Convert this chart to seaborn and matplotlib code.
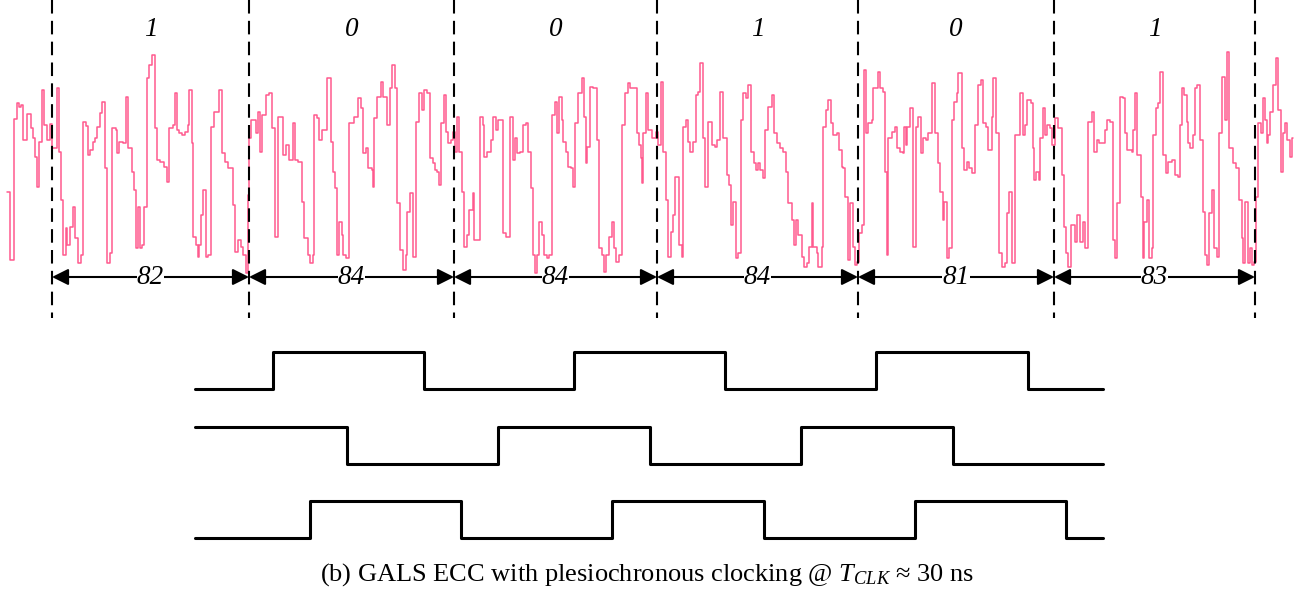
import numpy as np
import pandas as pd
import matplotlib
matplotlib.use("Agg")
import matplotlib.pyplot as plt
import seaborn as sns

sns.set_theme(style="white")
plt.rcParams['font.family'] = ['Liberation Serif', 'DejaVu Serif']
plt.rcParams['mathtext.fontset'] = 'custom'
plt.rcParams['mathtext.rm'] = 'Liberation Serif'
plt.rcParams['mathtext.it'] = 'Liberation Serif:italic'
plt.rcParams['text.color'] = 'black'

# ---------------- data ----------------
# pink trace: step breakpoints (time, level; larger level = lower on screen)
trace_t = [7, 10, 14, 17, 19, 21, 23, 27, 31, 33, 35, 37, 39, 42, 44, 47, 50, 52, 57, 59, 61, 63, 66, 67, 70, 73, 75, 78, 81, 83,
           86, 88, 90, 93, 95, 97, 100, 102, 105, 107, 110, 112, 116, 117, 119, 123, 126, 128, 132, 134, 136, 138, 140, 142, 144, 147, 149, 152, 155, 157,
           160, 164, 167, 169, 173, 175, 177, 179, 182, 185, 188, 189, 192, 193, 196, 198, 199, 201, 203, 206, 208, 211, 214, 219, 222, 225, 228, 233, 235, 238,
           241, 243, 246, 248, 249, 251, 256, 258, 260, 262, 266, 269, 272, 275, 278, 283, 286, 289, 293, 295, 298, 302, 304, 308, 310, 313, 314, 317, 319, 322,
           327, 331, 333, 335, 337, 339, 342, 343, 346, 349, 354, 358, 361, 363, 366, 368, 372, 373, 374, 377, 381, 383, 387, 390, 392, 395, 397, 400, 403, 406,
           407, 410, 413, 416, 419, 422, 424, 427, 430, 433, 435, 437, 439, 441, 444, 446, 448, 451, 453, 455, 457, 459, 462, 464, 467, 469, 473, 474, 477, 480,
           483, 484, 487, 491, 493, 496, 498, 503, 506, 510, 513, 515, 517, 520, 523, 526, 528, 531, 533, 535, 537, 539, 542, 544, 547, 549, 552, 555, 557, 559,
           562, 563, 566, 568, 571, 573, 575, 578, 582, 584, 586, 587, 590, 593, 597, 599, 602, 604, 606, 609, 612, 614, 616, 619, 622, 625, 628, 630, 637, 639,
           641, 642, 643, 646, 648, 652, 656, 658, 661, 663, 666, 668, 671, 673, 675, 679, 682, 683, 686, 688, 690, 693, 696, 698, 700, 703, 705, 708, 712, 715,
           717, 720, 723, 727, 729, 731, 733, 736, 738, 741, 743, 746, 748, 751, 754, 756, 758, 760, 763, 765, 768, 772, 774, 777, 780, 783, 786, 788, 792, 794,
           796, 798, 802, 804, 807, 809, 812, 813, 817, 818, 822, 823, 826, 828, 831, 833, 837, 839, 842, 843, 845, 848, 850, 853, 855, 857, 859, 862, 864, 866,
           868, 872, 873, 878, 880, 883, 885, 887, 888, 892, 895, 897, 900, 903, 904, 906, 907, 910, 913, 916, 918, 921, 923, 926, 928, 932, 935, 938, 940, 943,
           944, 947, 949, 952, 954, 957, 958, 962, 964, 967, 969, 972, 975, 978, 981, 983, 986, 988, 992, 993, 996, 999, 1002, 1005, 1007, 1009, 1012, 1015, 1020, 1023,
           1025, 1027, 1031, 1033, 1034, 1036, 1039, 1040, 1043, 1045, 1047, 1050, 1052, 1055, 1058, 1062, 1064, 1066, 1068, 1071, 1075, 1077, 1080, 1083, 1085, 1088, 1092, 1094, 1097, 1099,
           1105, 1107, 1110, 1113, 1115, 1117, 1120, 1123, 1125, 1127, 1132, 1133, 1135, 1137, 1141, 1143, 1144, 1147, 1149, 1152, 1153, 1156, 1158, 1160, 1163, 1166, 1168, 1172, 1175, 1178,
           1180, 1182, 1184, 1187, 1188, 1190, 1193, 1195, 1197, 1200, 1203, 1205, 1207, 1209, 1212, 1214, 1217, 1219, 1222, 1225, 1227, 1229, 1233, 1236, 1239, 1242, 1243, 1245, 1248, 1250,
           1252, 1254, 1256, 1258, 1261, 1263, 1265, 1267, 1268, 1270, 1273, 1276, 1278, 1281, 1283, 1285, 1287, 1290, 1292, 1293]
trace_v = [192, 260, 119, 103, 107, 105, 140, 114, 128, 138, 157, 187, 142, 90, 125, 140, 124, 148, 88, 152, 200, 255, 228, 245, 227, 207, 238, 263, 255, 122,
           126, 155, 150, 142, 138, 127, 113, 102, 168, 263, 253, 128, 130, 153, 142, 143, 97, 148, 172, 190, 248, 207, 248, 245, 207, 78, 65, 55, 128, 160,
           162, 167, 182, 128, 125, 93, 130, 133, 135, 132, 125, 90, 143, 237, 245, 257, 245, 215, 190, 257, 255, 127, 112, 90, 153, 162, 168, 205, 252, 240,
           247, 255, 273, 195, 138, 120, 133, 112, 152, 115, 95, 93, 128, 237, 117, 155, 145, 160, 123, 160, 162, 202, 238, 255, 263, 255, 115, 118, 140, 130,
           78, 142, 172, 188, 255, 222, 235, 255, 258, 123, 117, 98, 108, 153, 148, 168, 170, 187, 118, 97, 82, 97, 125, 88, 65, 88, 203, 250, 270, 255,
           212, 193, 257, 122, 93, 110, 90, 93, 158, 163, 170, 172, 185, 123, 95, 132, 143, 140, 132, 152, 117, 152, 192, 247, 235, 210, 193, 240, 240, 117,
           125, 157, 152, 140, 117, 130, 120, 233, 237, 117, 160, 138, 153, 152, 125, 123, 152, 188, 255, 273, 255, 222, 235, 255, 258, 255, 115, 102, 133, 97,
           120, 142, 152, 167, 168, 187, 123, 93, 78, 117, 163, 147, 87, 88, 140, 248, 255, 272, 255, 237, 222, 248, 262, 255, 125, 93, 83, 88, 133, 145,
           158, 183, 133, 93, 130, 138, 132, 145, 82, 152, 200, 257, 232, 215, 177, 245, 257, 127, 120, 142, 152, 142, 95, 92, 63, 138, 187, 122, 145, 147,
           140, 92, 138, 175, 185, 225, 202, 258, 253, 120, 93, 98, 85, 152, 163, 170, 163, 170, 178, 130, 107, 95, 133, 143, 148, 152, 172, 203, 220, 245,
           220, 235, 257, 267, 263, 247, 203, 247, 253, 267, 247, 127, 110, 100, 123, 135, 133, 150, 167, 168, 197, 260, 203, 247, 265, 262, 233, 225, 70, 133,
           123, 120, 88, 72, 88, 92, 172, 255, 138, 132, 127, 148, 152, 153, 127, 145, 127, 108, 247, 127, 117, 153, 138, 140, 133, 83, 133, 163, 192, 220,
           202, 258, 248, 120, 102, 93, 73, 148, 170, 162, 168, 173, 125, 85, 80, 123, 127, 150, 117, 78, 133, 253, 267, 263, 213, 192, 263, 135, 93, 135,
           125, 100, 103, 148, 180, 172, 180, 138, 108, 135, 125, 128, 145, 118, 128, 175, 227, 253, 267, 225, 242, 215, 242, 222, 248, 122, 112, 152, 140, 143,
           130, 120, 122, 240, 258, 203, 97, 98, 133, 150, 152, 130, 93, 155, 197, 258, 222, 200, 258, 248, 135, 108, 103, 72, 155, 173, 162, 160, 175, 177,
           125, 88, 95, 122, 143, 148, 135, 88, 85, 140, 212, 255, 265, 213, 190, 248, 257, 133, 77, 120, 52, 148, 163, 168, 200, 238, 263, 202, 263, 248,
           265, 262, 197, 123, 133, 98, 120, 143, 135, 112, 85, 58, 110, 172, 133, 123, 140, 157, 138, 138]

# symbol boundaries, bits and sample counts per symbol
bounds = [52, 249, 454, 657, 858, 1054, 1255]
bits = ["1", "0", "0", "1", "0", "1"]
counts = ["82", "84", "84", "84", "81", "83"]

# three plesiochronous clocks: start level and edge times
clk_start = [0, 1, 0]
clk_edges = [
    [273, 424, 574, 725, 876, 1028],
    [347, 498, 650, 801, 953],
    [310, 461, 612, 764, 915, 1066],
]
clk_begin, clk_end = 195, 1103

caption = r"(b) GALS ECC with plesiochronous clocking @ $T_{CLK}$ ≈ 30 ns"

# ---------------- figure ----------------
W, H = 1297, 599
fig = plt.figure(figsize=(W / 100, H / 100), dpi=100)
fig.patch.set_facecolor("white")

# top axes: trace
top_px = 330
ax1 = fig.add_axes([0, 1 - top_px / H, 1, top_px / H])
ax1.set_xlim(0, W)
ax1.set_ylim(top_px, 0)
ax1.axis("off")

df = pd.DataFrame({"t": trace_t, "v": trace_v})
sns.lineplot(data=df, x="t", y="v", ax=ax1, color="#FF5A8E", linewidth=1.1,
             drawstyle="steps-post", estimator=None, sort=False, zorder=2)

for b in bounds:
    ax1.plot([b, b], [0, 318], color="black", linewidth=1.5,
             linestyle=(0, (6.5, 3.5)), zorder=3)

arrow_y = 277
for i in range(len(bits)):
    x0, x1 = bounds[i], bounds[i + 1]
    ax1.annotate("", xy=(x1, arrow_y), xytext=(x0, arrow_y),
                 arrowprops=dict(arrowstyle="<|-|>,head_length=0.9,head_width=0.45",
                                 color="black", lw=1.5, shrinkA=0, shrinkB=0,
                                 mutation_scale=11), zorder=4)
    xm = (x0 + x1) / 2
    ax1.text(xm, arrow_y, counts[i], ha="center", va="center", fontsize=19.5,
             fontstyle="italic", color="black", zorder=5,
             bbox=dict(facecolor="white", edgecolor="none", pad=0.2))
    ax1.text(xm, 30, bits[i], ha="center", va="center", fontsize=19.5,
             fontstyle="italic", color="black", zorder=5)

# bottom axes: clocks
b0, b1 = 340, 560
ax2 = fig.add_axes([0, 1 - b1 / H, 1, (b1 - b0) / H])
ax2.set_xlim(0, W)
ax2.set_ylim(-(b1 - 389) / 37, (389 - b0) / 37)
ax2.axis("off")

for k in range(3):
    ts = [clk_begin] + clk_edges[k] + [clk_end]
    lv = [clk_start[k]]
    for _ in clk_edges[k]:
        lv.append(1 - lv[-1])
    lv.append(lv[-1])
    d = pd.DataFrame({"t": ts, "v": np.array(lv) - 2.02 * k})
    sns.lineplot(data=d, x="t", y="v", ax=ax2, color="black", linewidth=2.2,
                 drawstyle="steps-post", estimator=None, sort=False)

fig.text(647 / W, 1 - 575 / H, caption, ha="center", va="center", fontsize=19,
         color="black")

fig.savefig("out.png", dpi=100, facecolor="white")
